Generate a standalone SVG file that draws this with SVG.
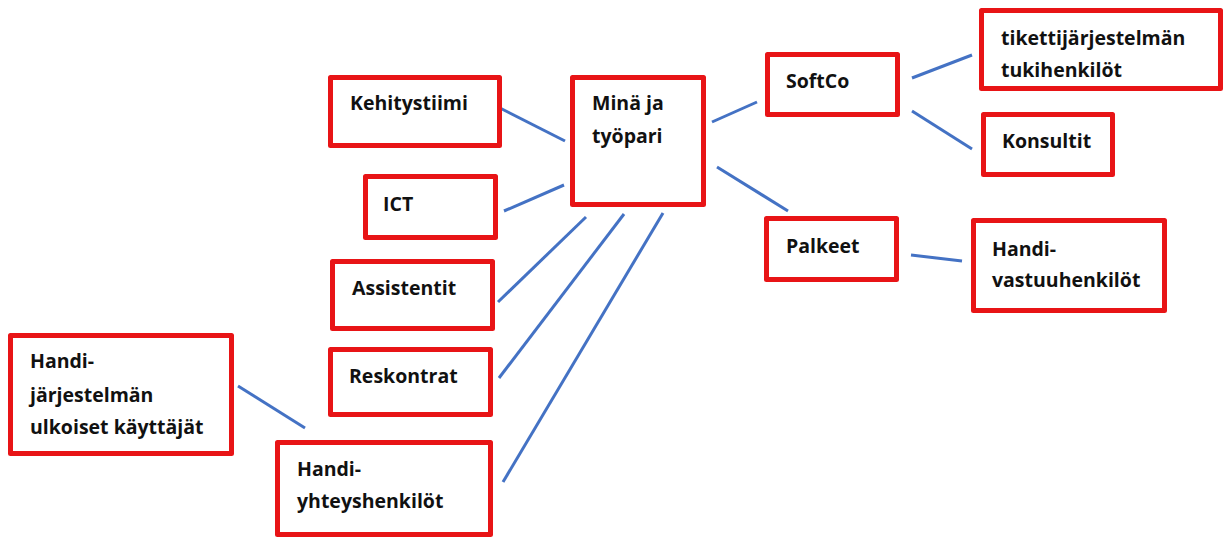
<svg xmlns="http://www.w3.org/2000/svg" width="1228" height="538" viewBox="0 0 1228 538">
<style>
.box{fill:#fff;stroke:#E81416;stroke-width:5;stroke-linejoin:round}
.t{font-family:"Open Sans","Noto Sans",sans-serif;font-weight:bold;font-size:19.5px;fill:#111}
.c line{stroke:#4472C4;stroke-width:3}
</style>
<rect width="1228" height="538" fill="#fff"/>
<g class="c" id="connectors">
<line x1="500" y1="108" x2="565" y2="141"/>
<line x1="504" y1="211" x2="564" y2="185"/>
<line x1="498" y1="302" x2="586" y2="217"/>
<line x1="499" y1="378" x2="624" y2="214"/>
<line x1="503" y1="482" x2="663" y2="213"/>
<line x1="238" y1="386" x2="305" y2="428"/>
<line x1="712" y1="122" x2="757" y2="102"/>
<line x1="717" y1="167" x2="788" y2="211"/>
<line x1="912" y1="78" x2="972" y2="55"/>
<line x1="912" y1="111" x2="972" y2="149"/>
<line x1="911" y1="255" x2="962" y2="261"/>
</g>
<g id="kehitystiimi"><rect class="box" x="330.5" y="77.5" width="169" height="68"/><text class="t" x="350" y="110">Kehitystiimi</text></g>
<g id="mina"><rect class="box" x="572.5" y="77.5" width="131" height="127"/><text class="t" x="592" y="110">Minä ja</text><text class="t" x="592" y="143">työpari</text></g>
<g id="ict"><rect class="box" x="365.5" y="176.5" width="130" height="61"/><text class="t" x="383" y="211">ICT</text></g>
<g id="assistentit"><rect class="box" x="332.5" y="261.5" width="160" height="67"/><text class="t" x="352" y="295">Assistentit</text></g>
<g id="reskontrat"><rect class="box" x="330.5" y="349.5" width="160" height="65"/><text class="t" x="349" y="383">Reskontrat</text></g>
<g id="handi-ulkoiset"><rect class="box" x="10.5" y="335.5" width="221" height="118"/><text class="t" x="30" y="368">Handi-</text><text class="t" x="30" y="402">järjestelmän</text><text class="t" x="30" y="434">ulkoiset käyttäjät</text></g>
<g id="handi-yhteys"><rect class="box" x="277.5" y="442.5" width="213" height="92"/><text class="t" x="297" y="476">Handi-</text><text class="t" x="297" y="508">yhteyshenkilöt</text></g>
<g id="softco"><rect class="box" x="767.5" y="54.5" width="130" height="60"/><text class="t" x="786" y="88">SoftCo</text></g>
<g id="tiketti"><rect class="box" x="981.5" y="10.5" width="239" height="78"/><text class="t" x="1001" y="45">tikettijärjestelmän</text><text class="t" x="1001" y="77">tukihenkilöt</text></g>
<g id="konsultit"><rect class="box" x="983.5" y="114.5" width="129" height="60"/><text class="t" x="1002" y="148">Konsultit</text></g>
<g id="palkeet"><rect class="box" x="766.5" y="218.5" width="130" height="61"/><text class="t" x="786" y="253">Palkeet</text></g>
<g id="handi-vastuu"><rect class="box" x="973.5" y="220.5" width="191" height="90"/><text class="t" x="992" y="256">Handi-</text><text class="t" x="992" y="287">vastuuhenkilöt</text></g>
</svg>
